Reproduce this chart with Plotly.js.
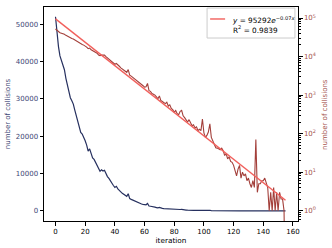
<!DOCTYPE html>
<html>
<head>
<meta charset="utf-8">
<script src="https://cdn.plot.ly/plotly-3.0.1.min.js"></script>
<style>html,body{margin:0;padding:0;background:#fff}#chart{width:332px;height:248px}</style>
</head>
<body>
<div id="chart"></div>
<script>
// number of collisions per iteration
const collisions = [
  52000, 47500, 44000, 41500, 40200, 39300, 37800, 35500, 33500, 32000,
  30300, 29500, 28600, 27000, 25500, 23800, 23000, 21000, 20600, 19800,
  18800, 17600, 16000, 16600, 15000, 14200, 13800, 13000, 12200, 11000,
  10600, 11000, 10700, 10900, 10000, 9200, 8700, 8000, 7300, 6800,
  6300, 6600, 5900, 5600, 5100, 4700, 4500, 4200, 3900, 4600,
  3300, 3100, 2900, 2700, 2500, 2300, 2200, 2000, 1850, 1750,
  1600, 1650, 2000, 1300, 1250, 1100, 1050, 1000, 900, 800,
  950, 720, 680, 640, 600, 650, 520, 560, 450, 420,
  360, 400, 330, 310, 380, 400, 290, 260, 230, 200,
  230, 190, 160, 170, 140, 150, 120, 130, 120, 240,
  105, 80, 90, 110, 180, 80, 65, 48, 43, 42,
  40, 38, 42, 36, 27, 30, 22, 25, 19, 18,
  15, 11, 8, 12, 15, 7, 10, 8, 9, 6,
  7, 5, 4, 6, 4, 70, 3, 5, 5, 6,
  6, 7, 5, 4, 1, 3, 1, 4, 1, 3,
  1, 3, 2, 2, 1, 0
];
const iterations = collisions.map((_, i) => i);

// exponential fit endpoints: y = 95292 e^(-0.07x), R^2 = 0.9839
const fitX = [0, 155];
const fitY = [95292, 1.86];
const fitLabel = '<i>y</i> = 95292<i>e</i><sup>\u22120.07<i>x</i></sup><br>R<sup>2</sup> = 0.9839';

// tick labels
const xTicks = [0, 20, 40, 60, 80, 100, 120, 140, 160];
const yLeftTicks = [0, 10000, 20000, 30000, 40000, 50000];
const yLeftText = ['0', '10000', '20000', '30000', '40000', '50000'];
const yRightTicks = [1, 10, 100, 1000, 10000, 100000];
const yRightText = ['10<sup>0</sup>', '10<sup>1</sup>', '10<sup>2</sup>', '10<sup>3</sup>', '10<sup>4</sup>', '10<sup>5</sup>'];
const yTitle = 'number of collisions';

const navy = '#26305f';
const brown = '#a33f3a';
const red = '#f2605c';
const leftLabel = '#3d4675';
const rightLabel = '#a4524d';
const font = 'DejaVu Sans, sans-serif';

// matplotlib clips non-positive values on a log axis
const collisionsLog = collisions.map(v => v > 0 ? v : 1e-3);

const traces = [
  {x: iterations, y: collisions, type: 'scatter', mode: 'lines', yaxis: 'y',
   line: {color: navy, width: 1.2}, showlegend: false, hoverinfo: 'skip'},
  {x: iterations, y: collisionsLog, type: 'scatter', mode: 'lines', yaxis: 'y2',
   line: {color: brown, width: 1.1}, showlegend: false, hoverinfo: 'skip'},
  {x: fitX, y: fitY, type: 'scatter', mode: 'lines', yaxis: 'y2',
   line: {color: red, width: 1.4}, name: 'fit', showlegend: false}
];

const layout = {
  width: 332, height: 248,
  margin: {l: 44, r: 34, t: 7, b: 27},
  paper_bgcolor: '#fff', plot_bgcolor: '#fff',
  font: {family: font, size: 7, color: '#000'},
  showlegend: false,
  xaxis: {range: [-7.75, 163.4], tickvals: xTicks, ticks: 'outside', ticklen: 3.5,
          tickcolor: '#000', showline: true, linecolor: '#000', linewidth: 1, mirror: true,
          showgrid: false, zeroline: false,
          tickfont: {family: font, size: 7, color: '#000'},
          title: {text: 'iteration', font: {family: font, size: 7.3, color: '#000'}, standoff: 2}},
  yaxis: {range: [-2700, 54600], tickvals: yLeftTicks, ticktext: yLeftText, ticks: 'outside', ticklen: 3.5,
          tickcolor: '#000', showline: true, linecolor: '#000', linewidth: 1,
          showgrid: false, zeroline: false,
          tickfont: {family: font, size: 7, color: leftLabel},
          title: {text: yTitle, font: {family: font, size: 7, color: leftLabel}, standoff: 4}},
  yaxis2: {type: 'log', range: [-0.268, 5.286], overlaying: 'y', side: 'right',
           tickvals: yRightTicks, ticktext: yRightText, ticks: 'outside', ticklen: 3.5,
           tickcolor: '#000', showline: true, linecolor: '#000', linewidth: 1,
           showgrid: false, zeroline: false,
           minor: {tickmode: 'linear', dtick: 'D1', ticks: 'outside', ticklen: 2, tickcolor: '#000', showgrid: false},
           tickfont: {family: font, size: 7, color: rightLabel}},
  // legend box drawn as shapes + text
  shapes: [
    {type: 'rect', xref: 'paper', yref: 'paper', x0: 0.642, x1: 0.988, y0: 0.855, y1: 0.995,
     line: {color: '#cccccc', width: 1}, fillcolor: 'rgba(255,255,255,0.85)', layer: 'above'},
    {type: 'line', xref: 'paper', yref: 'paper', x0: 0.654, x1: 0.713, y0: 0.944, y1: 0.944,
     line: {color: red, width: 1.4}, layer: 'above'}
  ],
  annotations: [
    {xref: 'paper', yref: 'paper', x: 0.732, y: 0.918, xanchor: 'left', yanchor: 'middle',
     text: fitLabel, align: 'left', showarrow: false,
     font: {family: font, size: 7.3, color: '#000'}},
    // right axis title
    {xref: 'paper', yref: 'paper', x: 1.106, y: 0.5, xanchor: 'center', yanchor: 'middle',
     text: yTitle, textangle: -90, showarrow: false,
     font: {family: font, size: 7, color: rightLabel}}
  ]
};

Plotly.newPlot('chart', traces, layout, {staticPlot: true, displayModeBar: false});
</script>
</body>
</html>
